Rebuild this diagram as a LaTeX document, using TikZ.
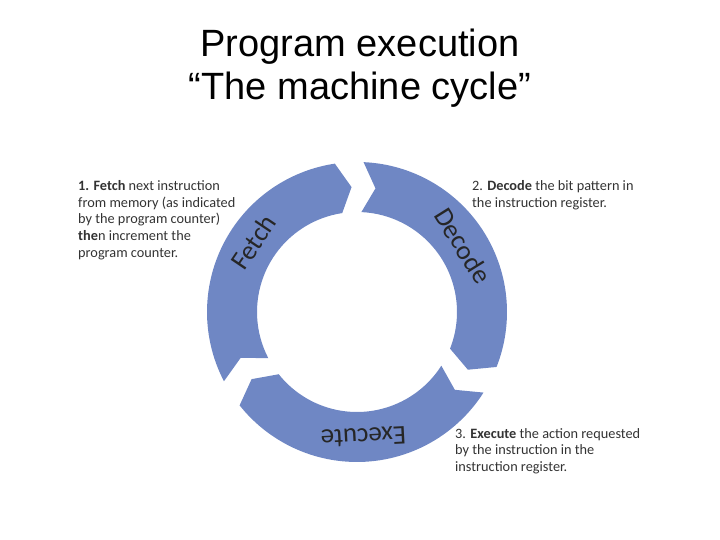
\documentclass[tikz,border=0pt]{standalone}
\usepackage{fontspec}
\setmainfont{Liberation Sans}
\newfontfamily\carfont{Carlito}
\definecolor{ring}{HTML}{6F87C4}
\definecolor{txt}{HTML}{333333}
\begin{document}
\begin{tikzpicture}[x=1pt,y=1pt,
  seg/.style={fill=ring,draw=none},
  lbl/.style={font=\carfont\fontsize{27}{27}\selectfont,text=black!85},
  desc/.style={anchor=north west,align=left,text=txt,inner sep=0pt,font=\carfont\fontsize{14.3}{16.8}\selectfont}]
\useasboundingbox (0,0) rectangle (720,540);
\node[font=\fontsize{38}{43}\selectfont,align=center] (title) at (360,472) {Program execution\\“The machine cycle”};
\begin{scope}[shift={(357,228)}]
\def\R{150}\def\r{100}\def\m{125}
% Fetch
\fill[seg] (207.5:\R) arc[start angle=207.5,end angle=98.5,radius=\R] -- (92.5:\m) -- (98.5:\r) arc[start angle=98.5,end angle=207.5,radius=\r] -- (201.5:\m) -- cycle;
% Decode
\fill[seg] (87.5:\R) arc[start angle=87.5,end angle=-21.5,radius=\R] -- (-27.5:\m) -- (-21.5:\r) arc[start angle=-21.5,end angle=87.5,radius=\r] -- (81.5:\m) -- cycle;
% Execute
\fill[seg] (-32.5:\R) arc[start angle=-32.5,end angle=-141.5,radius=\R] -- (-147.5:\m) -- (-141.5:\r) arc[start angle=-141.5,end angle=-32.5,radius=\r] -- (-38.5:\m) -- cycle;
\node[lbl,rotate=56] (fetch) at (146:\m) {Fetch};
\node[lbl,rotate=-58] (decode) at (32:\m) {Decode};
\node[lbl,rotate=-177] (execute) at (-87:\m) {Execute};
\end{scope}
\node[desc] (d1) at (78,360) {\textbf{1. Fetch} next instruction\\from memory (as indicated\\by the program counter)\\\textbf{the}n increment the\\program counter.};
\node[desc] (d2) at (472,360) {2. \textbf{Decode} the bit pattern in\\the instruction register.};
\node[desc] (d3) at (455,112) {3. \textbf{Execute} the action requested\\by the instruction in the\\instruction register.};
\end{tikzpicture}
\end{document}
